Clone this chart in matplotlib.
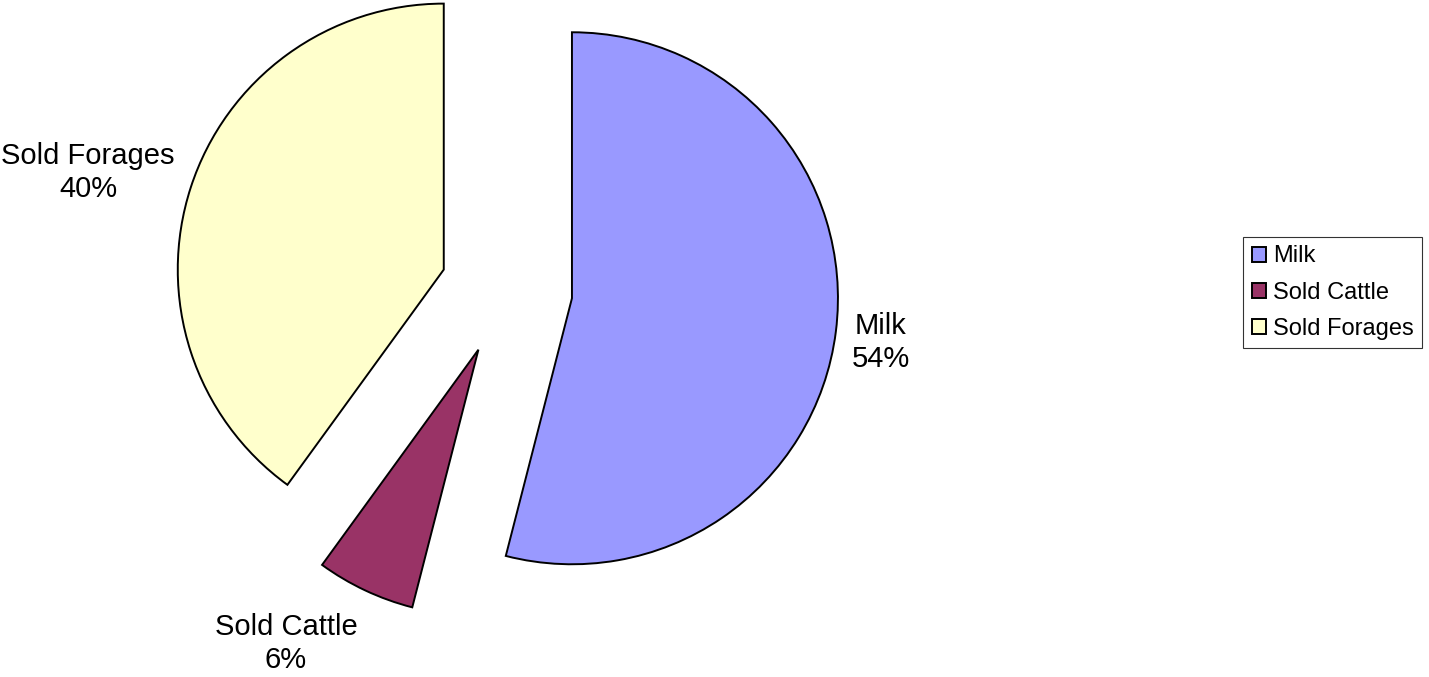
import numpy as np
import matplotlib.pyplot as plt

plt.rcParams['font.family'] = ['Liberation Sans', 'DejaVu Sans']

categories = ['Milk', 'Sold Cattle', 'Sold Forages']
shares = [54, 6, 40]
colors = ['#9999FF', '#993366', '#FFFFCC']
explode = [0.248, 0.248, 0.248]
# data label placement: distance out from the slice (radii) and a small turn (deg)
label_dist = [1.064, 1.195, 1.075]
label_turn = [-1.8, 2.8, -1.9]

W, H = 1429, 677
R_PX = 266.0
CX, CY = 506.5, 290.0

fig = plt.figure(figsize=(W / 100, H / 100), dpi=100)
ax = fig.add_axes([0, 0, 1, 1])

wedges, _ = ax.pie(shares, colors=colors, explode=explode, startangle=90,
                   counterclock=False, radius=1.0,
                   wedgeprops=dict(edgecolor='black', linewidth=1.4))

for w, name, val, dist, turn in zip(wedges, categories, shares, label_dist, label_turn):
    mid = np.deg2rad(0.5 * (w.theta1 + w.theta2) + turn)
    x = w.center[0] + dist * np.cos(mid)
    y = w.center[1] + dist * np.sin(mid)
    ha = 'left' if np.cos(mid) > 0 else 'right'
    ax.text(x, y, f'{name}\n{val}%', ha=ha, va='center',
            multialignment='center', fontsize=21, linespacing=1.22)

ax.set_xlim(-CX / R_PX, (W - CX) / R_PX)
ax.set_ylim(-(H - CY) / R_PX, CY / R_PX)
ax.set_aspect('equal')
ax.axis('off')

leg = ax.legend(wedges, categories, loc='upper left',
                bbox_to_anchor=(1243 / W, 1 - 237 / H),
                bbox_transform=fig.transFigure,
                fontsize=17, frameon=True, fancybox=False,
                handlelength=0.62, handleheight=0.62, handletextpad=0.3,
                labelspacing=0.6, borderpad=0.36, borderaxespad=0)
leg.get_frame().set_edgecolor('black')
leg.get_frame().set_linewidth(0.8)

plt.savefig('out.png', dpi=100)
